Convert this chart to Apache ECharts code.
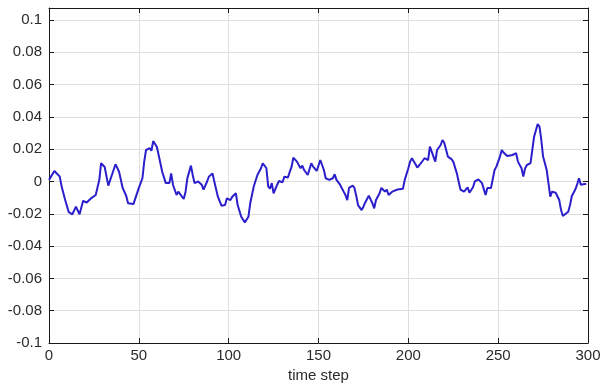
<!DOCTYPE html>
<html>
<head>
<meta charset="utf-8">
<script src="https://cdn.jsdelivr.net/npm/echarts@6/dist/echarts.min.js"></script>
<style>
  html, body { margin: 0; padding: 0; background: #ffffff; }
  #chart { width: 600px; height: 385px; }
</style>
</head>
<body>
<div id="chart"></div>
<script>
// Time steps at which the signal was sampled
const steps = [
  0, 3, 6, 7, 9, 11, 13, 15, 16, 17, 19, 21, 23, 26, 28, 29, 31, 33, 35, 37,
  39, 41, 43, 44, 47, 48, 50, 52, 53, 54, 56, 57, 58, 60, 61, 63, 65, 67, 68, 69,
  71, 72, 74, 75, 76, 77, 79, 80, 81, 83, 85, 86, 88, 89, 91, 92, 94, 96, 98, 99,
  101, 102, 104, 105, 107, 109, 111, 112, 114, 116, 118, 119, 121, 122, 123, 124, 125, 127, 128, 130,
  131, 133, 134, 135, 136, 138, 140, 141, 142, 144, 146, 147, 149, 151, 153, 154, 156, 158, 159, 160,
  162, 164, 165, 166, 167, 169, 170, 171, 172, 174, 175, 176, 178, 180, 181, 182, 184, 185, 187, 188,
  189, 191, 192, 194, 195, 197, 198, 200, 201, 202, 204, 205, 207, 208, 209, 211, 212, 213, 215, 216,
  218, 219, 220, 222, 224, 225, 227, 228, 229, 231, 233, 234, 236, 237, 239, 240, 241, 243, 244, 245,
  246, 248, 249, 251, 252, 253, 255, 258, 260, 261, 263, 264, 265, 266, 268, 269, 270, 272, 273, 274,
  275, 277, 278, 279, 280, 282, 284, 285, 286, 287, 289, 290, 291, 293, 294, 295, 296, 298, 299
];

// Signal value at each step
const values = [
  0.001, 0.0065, 0.003, -0.003, -0.0115, -0.019, -0.0203, -0.0156, -0.018, -0.0203,
  -0.012, -0.013, -0.0108, -0.0084, 0.001, 0.0113, 0.009, -0.0026, 0.004, 0.0107,
  0.006, -0.004, -0.009, -0.0135, -0.014, -0.014, -0.004, 0.002, 0.0123, 0.0195,
  0.0206, 0.019, 0.025, 0.0215, 0.0165, 0.006, -0.001, -0.001, 0.005, -0.002,
  -0.0084, -0.0063, -0.0094, -0.0108, -0.0063, 0.002, 0.0098, 0.004, -0.001, 0.0,
  -0.002, -0.005, 0.0, 0.003, 0.005, 0.0, -0.0094, -0.015, -0.0146, -0.0104,
  -0.0115, -0.0094, -0.0073, -0.0146, -0.0218, -0.0253, -0.0218, -0.0135, -0.003, 0.004,
  0.0082, 0.0113, 0.0082, -0.003, -0.0045, -0.001, -0.0073, -0.002, 0.0003, -0.0005,
  0.003, 0.0025, 0.006, 0.009, 0.0148, 0.0123, 0.0082, 0.0098, 0.0071, 0.004,
  0.0113, 0.0092, 0.0065, 0.0133, 0.0071, 0.002, 0.001, 0.002, 0.0045, 0.001,
  -0.002, -0.0063, -0.0084, -0.0115, -0.004, -0.0026, -0.004, -0.0088, -0.0146, -0.0177,
  -0.0156, -0.013, -0.0088, -0.0135, -0.0166, -0.0115, -0.0073, -0.004, -0.0063, -0.005,
  -0.0084, -0.0063, -0.0073, -0.005, -0.005, -0.0045, 0.001, 0.0082, 0.0123, 0.0144,
  0.0107, 0.0086, 0.0113, 0.0107, 0.0144, 0.0133, 0.0216, 0.0185, 0.0123, 0.0195,
  0.0226, 0.0257, 0.024, 0.0154, 0.0138, 0.0123, 0.005, 0.0, -0.005, -0.0063,
  -0.0036, -0.007, -0.0036, 0.0, 0.0013, 0.002, -0.001, -0.0084, -0.004, -0.005,
  -0.004, 0.0071, 0.0092, 0.0154, 0.0195, 0.0179, 0.0158, 0.0164, 0.0175, 0.0123,
  0.0082, 0.003, 0.0082, 0.0102, 0.0113, 0.0195, 0.0277, 0.0356, 0.034, 0.0257,
  0.0154, 0.0071, -0.001, -0.0094, -0.0063, -0.007, -0.0115, -0.0177, -0.0214, -0.0214,
  -0.0187, -0.0146, -0.009, -0.0048, -0.0016, 0.002, -0.002, -0.0016, -0.0016
];

// Tick positions on each axis
const xTicks = [0, 50, 100, 150, 200, 250, 300];
const yTicks = [-0.1, -0.08, -0.06, -0.04, -0.02, 0, 0.02, 0.04, 0.06, 0.08, 0.1];
const yTop = 0.1074;

const xLabel = 'time step';

const textColor = '#2b2b2b';
const boxColor = '#1a1a1a';
const gridColor = '#dedede';
const font = 'Liberation Sans, Arial, sans-serif';
const fontSize = 15;

function fmtY(v) {
  return String(+v.toFixed(2));
}

const common = {
  axisLine: { show: true, onZero: false, lineStyle: { color: boxColor, width: 1 } },
  axisTick: { show: true, inside: true, length: 5, lineStyle: { color: boxColor, width: 1 } }
};

const chart = echarts.init(document.getElementById('chart'), null, { renderer: 'canvas' });

chart.setOption({
  animation: false,
  backgroundColor: '#ffffff',
  grid: { left: 49, right: 12, top: 8, bottom: 42, containLabel: false, outerBoundsMode: 'none' },
  xAxis: [
    Object.assign({}, common, {
      type: 'value',
      position: 'bottom',
      min: xTicks[0],
      max: xTicks[xTicks.length - 1],
      interval: xTicks[1] - xTicks[0],
      name: xLabel,
      nameLocation: 'middle',
      nameGap: 24,
      nameTextStyle: { color: textColor, fontSize: fontSize, fontFamily: font },
      axisLabel: { color: textColor, fontSize: fontSize, fontFamily: font, margin: 5 },
      splitLine: { show: true, lineStyle: { color: gridColor, width: 1 } }
    }),
    Object.assign({}, common, {
      type: 'value',
      position: 'top',
      min: xTicks[0],
      max: xTicks[xTicks.length - 1],
      interval: xTicks[1] - xTicks[0],
      axisLabel: { show: false },
      splitLine: { show: false }
    })
  ],
  yAxis: [
    Object.assign({}, common, {
      type: 'value',
      position: 'left',
      min: yTicks[0],
      max: yTop,
      interval: 0.02,
      axisLabel: {
        color: textColor, fontSize: fontSize, fontFamily: font, margin: 7,
        showMaxLabel: false, formatter: fmtY
      },
      splitLine: { show: true, lineStyle: { color: gridColor, width: 1 } }
    }),
    Object.assign({}, common, {
      type: 'value',
      position: 'right',
      min: yTicks[0],
      max: yTop,
      interval: 0.02,
      axisLabel: { show: false },
      splitLine: { show: false }
    })
  ],
  series: [{
    type: 'line',
    xAxisIndex: 0,
    yAxisIndex: 0,
    data: steps.map((t, i) => [t, values[i]]),
    showSymbol: false,
    smooth: false,
    lineStyle: { color: '#2b1fcc', width: 2 },
    itemStyle: { color: '#2b1fcc' }
  }]
});
</script>
</body>
</html>
